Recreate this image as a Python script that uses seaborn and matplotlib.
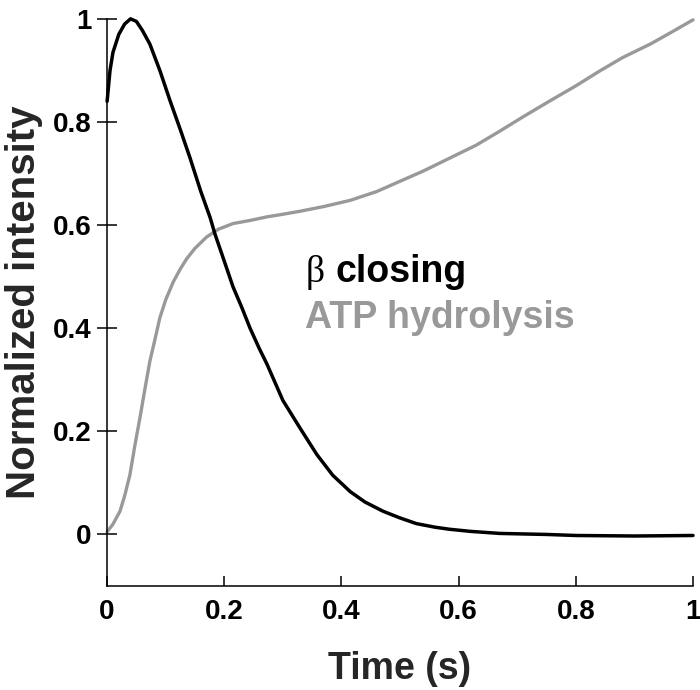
# Cinética normalizada: cierre de beta vs hidrólisis de ATP
import pandas as pd
import seaborn as sns
import matplotlib.pyplot as plt

# Datos (tiempo en s, intensidad normalizada)
t_beta = [0.0, 0.005, 0.01, 0.02, 0.03, 0.04, 0.05, 0.06, 0.073, 0.09,
          0.1075, 0.125, 0.1416, 0.16, 0.176, 0.184, 0.2, 0.215, 0.23, 0.244,
          0.26, 0.273, 0.3, 0.33, 0.358, 0.385, 0.415, 0.44, 0.471, 0.5,
          0.528, 0.56, 0.585, 0.62, 0.67, 0.75, 0.8, 0.9, 1.0]
beta_closing = [0.84, 0.90, 0.935, 0.97, 0.99, 1.0, 0.995, 0.978, 0.951, 0.90,
                0.841, 0.785, 0.73, 0.665, 0.614, 0.583, 0.53, 0.48, 0.44, 0.40,
                0.36, 0.33, 0.26, 0.205, 0.155, 0.115, 0.083, 0.063, 0.045, 0.032,
                0.021, 0.014, 0.01, 0.006, 0.002, 0.0, -0.002, -0.003, -0.002]

t_atp = [0.0, 0.01, 0.022, 0.03, 0.039, 0.047, 0.056, 0.065, 0.073, 0.08,
         0.09, 0.1, 0.113, 0.125, 0.136, 0.15, 0.17, 0.19, 0.215, 0.244,
         0.273, 0.3, 0.33, 0.37, 0.415, 0.46, 0.5, 0.54, 0.585, 0.63,
         0.67, 0.71, 0.756, 0.8, 0.841, 0.88, 0.927, 0.96, 1.0]
atp_hydrolysis = [0.005, 0.02, 0.045, 0.075, 0.116, 0.17, 0.226, 0.285, 0.336, 0.37,
                  0.42, 0.455, 0.49, 0.515, 0.535, 0.555, 0.577, 0.592, 0.603, 0.609,
                  0.616, 0.621, 0.627, 0.636, 0.648, 0.665, 0.685, 0.705, 0.73, 0.755,
                  0.782, 0.81, 0.841, 0.87, 0.899, 0.925, 0.951, 0.972, 0.998]

ticks = [0, 0.2, 0.4, 0.6, 0.8, 1.0]
tick_labels = ['0', '0.2', '0.4', '0.6', '0.8', '1']

beta_df = pd.DataFrame({'time': t_beta, 'intensity': beta_closing})
atp_df = pd.DataFrame({'time': t_atp, 'intensity': atp_hydrolysis})

sns.set_style("ticks")
plt.rcParams['font.family'] = ['Liberation Sans', 'DejaVu Sans']

fig = plt.figure(figsize=(7, 6.9), dpi=100)
ax = fig.add_axes([0.153, 0.1507, 0.837, 0.822])

gray = '#999999'
sns.lineplot(x='time', y='intensity', data=atp_df, color=gray, linewidth=2.4,
             ax=ax, clip_on=False)
sns.lineplot(x='time', y='intensity', data=beta_df, color='black', linewidth=2.5,
             ax=ax, clip_on=False)

ax.set_xlim(0, 1)
ax.set_ylim(-0.1, 1.0)
ax.set_xticks(ticks)
ax.set_xticklabels(tick_labels, fontsize=20, fontweight='bold')
ax.set_yticks(ticks)
ax.set_yticklabels(tick_labels, fontsize=20, fontweight='bold')

for s in ['top', 'right']:
    ax.spines[s].set_visible(False)
for s in ['left', 'bottom']:
    ax.spines[s].set_linewidth(1.1)
    ax.spines[s].set_color('black')

ax.tick_params(axis='y', direction='inout', length=14.4, width=1.1, pad=4,
               colors='black')
ax.tick_params(axis='x', direction='in', length=7, width=1.1, pad=9,
               colors='black')

ax.set_xlabel('Time (s)', fontsize=27, fontweight='bold', labelpad=19)
ax.set_ylabel('Normalized intensity', fontsize=29, fontweight='bold', labelpad=7)

# Etiquetas de las series
ax.text(0.338, 0.489, 'β', fontsize=27, family=['Liberation Serif', 'DejaVu Serif'],
        color='black', ha='left', va='baseline')
ax.text(0.389, 0.489, 'closing', fontsize=27, fontweight='bold', color='black',
        ha='left', va='baseline')
ax.text(0.338, 0.40, 'ATP hydrolysis', fontsize=27, fontweight='bold', color=gray,
        ha='left', va='baseline')

plt.savefig('out.png', dpi=100)
